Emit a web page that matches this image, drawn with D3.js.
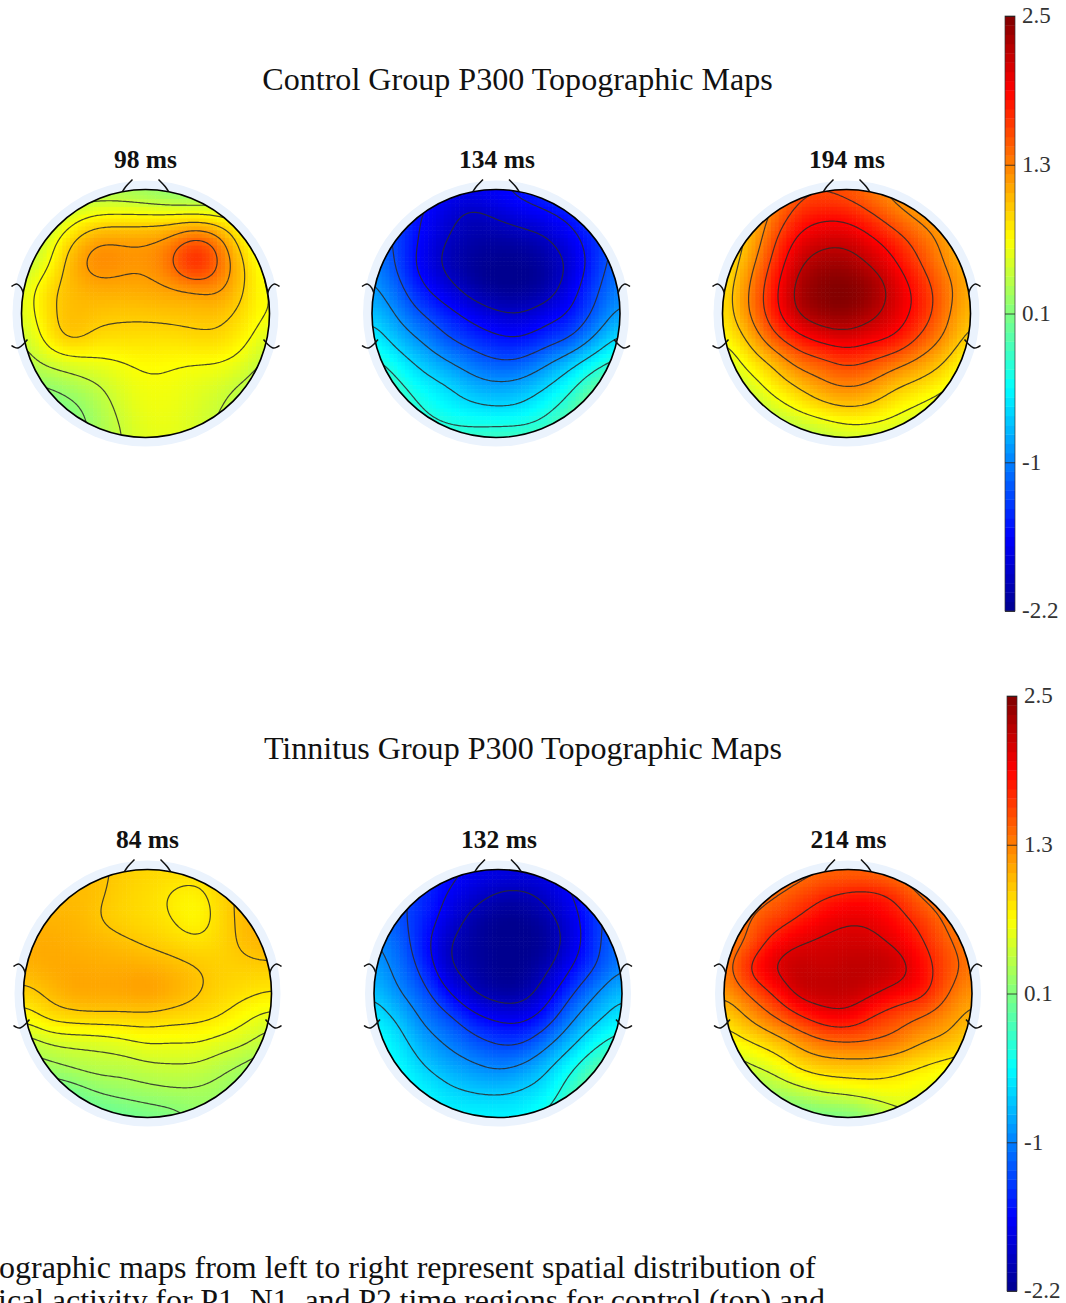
<!DOCTYPE html>
<html>
<head>
<meta charset="utf-8">
<title>P300 Topographic Maps</title>
<script src="https://cdn.jsdelivr.net/npm/d3@7"></script>
<style>
  html, body { margin: 0; padding: 0; background: #fff; overflow: hidden; }
  text { font-family: "Liberation Serif", "Times New Roman", serif; }
</style>
</head>
<body>
<svg id="canvas" width="1066" height="1303"></svg>
<script>
// values, 11 x 11 samples over the head square (front row first)
let control98 = [
  [0.3,0.3,0.3,0.3,0.28,0.2,0.1,0.1,0.2,0.3,0.3],
  [0.2,0.3,0.55,0.7,0.72,0.72,0.72,0.72,0.65,0.55,0.45],
  [0.3,0.55,0.92,1.17,1.18,1.18,1.25,1.5,1.28,0.76,0.5],
  [0.4,0.65,1.08,1.3,1.25,1.23,1.4,1.85,1.42,0.95,0.6],
  [0.55,0.88,1.05,1.12,1.13,1.14,1.18,1.22,1.25,0.95,0.65],
  [0.55,0.88,1.05,1.02,0.99,1.0,1.02,1.03,1.03,0.88,0.68],
  [0.45,0.8,1.03,0.9,0.9,0.88,0.88,0.92,0.92,0.78,0.55],
  [0.35,0.52,0.6,0.66,0.7,0.76,0.74,0.72,0.72,0.62,0.4],
  [0.2,0.22,0.33,0.43,0.6,0.68,0.68,0.62,0.55,0.42,0.3],
  [0.05,0.05,0.15,0.33,0.52,0.66,0.66,0.58,0.48,0.35,0.3],
  [0,0,0.1,0.3,0.47,0.6,0.62,0.55,0.42,0.3,0.3]
];
let control134 = [
  [-1.4,-1.4,-1.45,-1.65,-1.65,-1.6,-1.5,-1.4,-1.3,-1.3,-1.3],
  [-1.2,-1.35,-1.58,-1.78,-1.98,-1.85,-1.72,-1.62,-1.48,-1.35,-1.3],
  [-1.1,-1.3,-1.62,-1.9,-2.05,-2.1,-2.05,-1.95,-1.68,-1.42,-1.2],
  [-0.95,-1.3,-1.68,-1.98,-2.15,-2.2,-2.2,-2.1,-1.85,-1.42,-1.1],
  [-0.88,-1.15,-1.53,-1.78,-2.05,-2.2,-2.2,-2.1,-1.72,-1.32,-1.0],
  [-0.68,-0.98,-1.26,-1.47,-1.68,-1.85,-1.9,-1.72,-1.55,-1.2,-0.85],
  [-0.45,-0.75,-0.98,-1.24,-1.4,-1.53,-1.57,-1.42,-1.27,-0.9,-0.55],
  [-0.2,-0.45,-0.7,-0.9,-1.08,-1.22,-1.2,-0.98,-0.72,-0.42,-0.2],
  [0,-0.2,-0.45,-0.58,-0.78,-0.85,-0.8,-0.62,-0.36,0,0.2],
  [0.05,-0.05,-0.27,-0.42,-0.5,-0.55,-0.52,-0.33,-0.1,0.25,0.3],
  [0.05,0.05,-0.1,-0.15,-0.15,-0.1,-0.1,-0.1,0.05,0.3,0.3]
];
let control194 = [
  [0.8,1.0,1.2,1.5,1.55,1.5,1.35,1.2,1.1,1.1,1.1],
  [0.8,1.0,1.33,1.7,1.82,1.8,1.62,1.38,1.2,1.1,1.0],
  [0.8,1.0,1.52,1.95,2.1,2.12,1.95,1.72,1.45,1.2,1.0],
  [0.75,1.15,1.65,2.14,2.34,2.34,2.17,1.92,1.6,1.27,1.05],
  [0.82,1.27,1.78,2.28,2.47,2.5,2.4,2.08,1.78,1.4,1.1],
  [0.8,1.27,1.75,2.22,2.4,2.44,2.28,2.05,1.78,1.38,1.0],
  [0.72,1.03,1.5,1.8,2.0,2.08,1.98,1.88,1.55,1.25,0.9],
  [0.45,0.78,1.02,1.38,1.5,1.65,1.55,1.38,1.2,0.98,0.65],
  [0.4,0.52,0.78,0.98,1.2,1.3,1.22,1.0,0.88,0.72,0.55],
  [0.3,0.35,0.5,0.68,0.82,0.92,0.87,0.72,0.6,0.5,0.45],
  [0.2,0.2,0.25,0.3,0.38,0.48,0.5,0.5,0.5,0.45,0.45]
];
let tinnitus84 = [
  [1.05,1.05,1.05,1.03,0.97,0.93,0.92,0.92,0.95,1.0,1.0],
  [1.05,1.05,1.05,1.03,0.94,0.9,0.82,0.78,0.94,1.06,1.05],
  [1.1,1.08,1.08,1.0,0.93,0.9,0.84,0.74,0.92,1.07,1.1],
  [1.12,1.13,1.1,1.08,1.04,0.98,0.93,0.88,0.93,1.05,1.1],
  [1.08,1.13,1.14,1.12,1.12,1.12,1.07,1.01,0.95,0.95,0.95],
  [0.93,1.04,1.15,1.15,1.16,1.2,1.12,1.02,0.93,0.88,0.83],
  [0.72,0.88,0.92,0.94,0.93,0.93,0.9,0.88,0.83,0.7,0.6],
  [0.4,0.52,0.55,0.56,0.62,0.69,0.67,0.68,0.6,0.54,0.4],
  [0.25,0.3,0.38,0.43,0.42,0.47,0.49,0.48,0.4,0.3,0.2],
  [0,0.02,0.08,0.2,0.26,0.3,0.33,0.33,0.28,0.2,0.15],
  [-0.05,-0.05,-0.02,0,0.03,0.08,0.12,0.22,0.25,0.2,0.2]
];
let tinnitus132 = [
  [-1.2,-1.25,-1.4,-1.55,-1.66,-1.72,-1.73,-1.72,-1.55,-1.35,-1.3],
  [-1.1,-1.25,-1.42,-1.65,-1.82,-1.98,-2.0,-1.85,-1.62,-1.35,-1.25],
  [-1.05,-1.25,-1.45,-1.77,-2.05,-2.2,-2.2,-2.05,-1.75,-1.35,-1.15],
  [-0.95,-1.15,-1.52,-1.95,-2.1,-2.2,-2.2,-2.15,-1.78,-1.36,-1.05],
  [-0.85,-1.08,-1.39,-1.92,-2.08,-2.2,-2.2,-2.0,-1.6,-1.28,-1.0],
  [-0.68,-0.98,-1.2,-1.6,-1.95,-2.1,-2.1,-1.75,-1.32,-0.98,-0.7],
  [-0.5,-0.72,-1.05,-1.23,-1.52,-1.68,-1.7,-1.45,-1.02,-0.72,-0.5],
  [-0.35,-0.55,-0.85,-1.03,-1.2,-1.33,-1.33,-1.05,-0.72,-0.4,-0.2],
  [-0.35,-0.42,-0.65,-0.82,-0.93,-1.02,-0.93,-0.7,-0.38,-0.05,0.1],
  [-0.4,-0.4,-0.45,-0.6,-0.67,-0.7,-0.63,-0.5,-0.15,0.15,0.2],
  [-0.4,-0.4,-0.42,-0.45,-0.45,-0.45,-0.45,-0.27,-0.1,0.2,0.2]
];
let tinnitus214 = [
  [1.25,1.25,1.25,1.35,1.4,1.4,1.38,1.3,1.3,1.3,1.3],
  [1.2,1.3,1.42,1.55,1.7,1.8,1.82,1.68,1.38,1.3,1.25],
  [1.2,1.45,1.6,1.77,1.95,2.03,2.0,1.85,1.65,1.38,1.25],
  [1.25,1.5,1.88,2.05,2.1,2.12,2.12,2.0,1.78,1.5,1.3],
  [1.3,1.8,2.08,2.2,2.15,2.22,2.22,2.18,1.9,1.58,1.35],
  [1.18,1.47,1.77,2.15,2.2,2.2,2.1,1.93,1.85,1.47,1.2],
  [0.88,1.17,1.42,1.68,1.9,1.95,1.7,1.55,1.4,1.25,1.05],
  [0.7,0.82,0.98,1.2,1.38,1.42,1.42,1.35,1.15,1.08,0.9],
  [0.3,0.5,0.62,0.88,0.98,1.0,0.98,0.9,0.82,0.72,0.7],
  [0.1,0.2,0.32,0.42,0.56,0.62,0.7,0.72,0.65,0.6,0.5],
  [0,0,0,0.02,0.05,0.05,0.2,0.45,0.5,0.5,0.5]
];

// contour levels of each map
let levels98 = [0.24, 0.48, 0.72, 0.96, 1.2, 1.44];
let levels134 = [-1.9, -1.58, -1.26, -0.94, -0.62, -0.3];
let levels194 = [0.7, 1.0, 1.3, 1.6, 1.9, 2.2];
let levels84 = [0.2, 0.36, 0.52, 0.68, 0.84, 1.0];
let levels132 = [-1.95, -1.63, -1.31, -0.99, -0.67, -0.35];
let levels214 = [0.55, 0.85, 1.15, 1.45, 1.75, 2.05];

let timeLabels = ["98 ms", "134 ms", "194 ms", "84 ms", "132 ms", "214 ms"];
let groupTitles = ["Control Group P300 Topographic Maps", "Tinnitus Group P300 Topographic Maps"];
let captionLines = [
  "ographic maps from left to right represent spatial distribution of",
  "ical activity for P1, N1, and P2 time regions for control (top) and"
];
let barTicks = [-2.2, -1.025, 0.15, 1.325, 2.5];
let barTickLabels = ["-2.2", "-1", "0.1", "1.3", "2.5"];

let jetColors = ["#00008f", "#0000ff", "#0080ff", "#00ffff", "#80ff80", "#ffff00", "#ff8000", "#ff0000", "#800000"];

const canvas = d3.select("#canvas");
const radius = 124;
const minV = -2.2, maxV = 2.5;

const jet = d3.scaleLinear()
  .domain(d3.range(9).map(i => minV + i * (maxV - minV) / 8))
  .range(jetColors)
  .interpolate(d3.interpolateRgb)
  .clamp(true);

// catmull-rom between the samples, only so the picture is smooth
const cubic = (a, b, c, d, t) =>
  0.5 * (2 * b + (c - a) * t + (2 * a - 5 * b + 4 * c - d) * t * t + (3 * b - a - 3 * c + d) * t * t * t);

const sampleGrid = (grid, u, v) => {
  let n = grid.length - 1;
  let iu = Math.min(Math.floor(u), n - 1), iv = Math.min(Math.floor(v), n - 1);
  let tu = u - iu, tv = v - iv;
  let rows = [-1, 0, 1, 2].map(dv => {
    let row = grid[Math.max(0, Math.min(n, iv + dv))];
    let at = du => row[Math.max(0, Math.min(n, iu + du))];
    return cubic(at(-1), at(0), at(1), at(2), tu);
  });
  return cubic(rows[0], rows[1], rows[2], rows[3], tv);
};

const smoothLine = d3.line().curve(d3.curveBasis);

const drawHead = (map, idx) => {
  const g = canvas.append("g").attr("transform", `translate(${map.cx},${map.cy})`);
  const x = d3.scaleLinear().domain([0, 160]).range([-radius, radius]);

  g.append("circle").attr("r", 133).attr("fill", "#ebf3fd");
  g.append("clipPath").attr("id", "clip" + idx).append("circle").attr("r", radius);

  const body = g.append("g").attr("clip-path", `url(#clip${idx})`);

  // finer field for pixels and lines, lightly blurred so the read values do not wobble
  const fine = 161;
  const field = new Float64Array(fine * fine);
  d3.range(fine).forEach(j => d3.range(fine).forEach(i => {
    field[j * fine + i] = sampleGrid(map.grid, i / 16, j / 16);
  }));
  d3.blur2({ data: field, width: fine, height: fine }, 6);

  // blocky pixels like the original interpolation grid
  const cells = [];
  const cellCount = 65;
  d3.range(cellCount).forEach(j => d3.range(cellCount).forEach(i => {
    let u = i * 2.5, v = j * 2.5;
    if (Math.hypot(x(u), x(v)) < radius + 5) {
      cells.push({ u, v, value: field[Math.round(v) * fine + Math.round(u)] });
    }
  }));
  const cellSize = x(2.5) - x(0);
  body.selectAll("rect")
    .data(cells)
    .join("rect")
    .attr("x", d => x(d.u) - cellSize / 2)
    .attr("y", d => x(d.v) - cellSize / 2)
    .attr("width", cellSize + 0.6)
    .attr("height", cellSize + 0.6)
    .attr("fill", d => jet(d.value));

  const contours = d3.contours().size([fine, fine]).thresholds(map.levels)(field);
  const toHead = d3.geoTransform({
    point(px, py) { this.stream.point(x(px - 0.5), x(py - 0.5)); }
  });
  body.selectAll("path.level")
    .data(contours)
    .join("path")
    .attr("class", "level")
    .attr("d", d3.geoPath(toHead))
    .attr("fill", "none")
    .attr("stroke", "#2a2a2a")
    .attr("stroke-opacity", 0.85)
    .attr("stroke-width", 1.2);

  g.append("circle").attr("r", radius).attr("fill", "none").attr("stroke", "#000").attr("stroke-width", 1.6);

  // nose
  [-1, 1].forEach(s => {
    g.append("path")
      .attr("d", smoothLine([[s * 23, -122], [s * 20, -127], [s * 16, -131], [s * 13, -134]]))
      .attr("fill", "none").attr("stroke", "#111").attr("stroke-width", 1.5);
  });
  // ears
  [-1, 1].forEach(s => {
    g.append("path")
      .attr("d", smoothLine([[s * 122, -20], [s * 124, -26], [s * 128, -30], [s * 131, -29], [s * 134, -27]]))
      .attr("fill", "none").attr("stroke", "#111").attr("stroke-width", 1.5);
    g.append("path")
      .attr("d", smoothLine([[s * 118, 26], [s * 122, 31], [s * 127, 35], [s * 131, 34], [s * 134, 32]]))
      .attr("fill", "none").attr("stroke", "#111").attr("stroke-width", 1.5);
  });

  canvas.append("text")
    .attr("x", map.cx + map.labelShift)
    .attr("y", map.cy - 145.5)
    .attr("text-anchor", "middle")
    .attr("font-size", 25.5)
    .attr("font-weight", "bold")
    .attr("fill", "#111")
    .text(map.label);
};

const drawBar = (barX, top) => {
  const barW = 10, barH = 595;
  const scale = d3.scaleLinear().domain([minV, maxV]).range([top + barH, top]);
  const steps = d3.range(64).map(i => minV + (i + 0.5) * (maxV - minV) / 64);
  const stepH = barH / 64;
  const bar = canvas.append("g");
  bar.selectAll("rect")
    .data(steps)
    .join("rect")
    .attr("x", barX)
    .attr("y", d => scale(d) - stepH / 2)
    .attr("width", barW)
    .attr("height", stepH + 0.4)
    .attr("fill", d => jet(d));
  bar.append("rect")
    .attr("x", barX).attr("y", top).attr("width", barW).attr("height", barH)
    .attr("fill", "none").attr("stroke", "#333").attr("stroke-width", 0.7);

  const axis = d3.axisRight(scale)
    .tickValues(barTicks)
    .tickSizeInner(-barW)
    .tickSizeOuter(0)
    .tickPadding(7)
    .tickFormat((d, i) => barTickLabels[i]);
  const ax = canvas.append("g")
    .attr("transform", `translate(${barX + barW},0)`)
    .call(axis);
  ax.select(".domain").remove();
  ax.selectAll("line").attr("stroke", "#222").attr("stroke-width", 0.8);
  ax.selectAll("text")
    .attr("font-size", 23)
    .attr("fill", "#333")
    .attr("dy", "0.3em")
    .style("font-family", '"Liberation Serif", serif');
};

let maps = [
  { grid: control98, levels: levels98, label: timeLabels[0], cx: 145.5, cy: 313.5, labelShift: 0 },
  { grid: control134, levels: levels134, label: timeLabels[1], cx: 496, cy: 313.5, labelShift: 1 },
  { grid: control194, levels: levels194, label: timeLabels[2], cx: 846.5, cy: 313.5, labelShift: 0.5 },
  { grid: tinnitus84, levels: levels84, label: timeLabels[3], cx: 147.5, cy: 993.5, labelShift: 0 },
  { grid: tinnitus132, levels: levels132, label: timeLabels[4], cx: 498, cy: 993.5, labelShift: 1 },
  { grid: tinnitus214, levels: levels214, label: timeLabels[5], cx: 848, cy: 993.5, labelShift: 0.5 }
];
maps.forEach(drawHead);

drawBar(1005, 16);
drawBar(1007, 696);

canvas.selectAll("text.title")
  .data(groupTitles)
  .join("text")
  .attr("class", "title")
  .attr("x", (d, i) => i === 0 ? 517.5 : 523)
  .attr("y", (d, i) => i === 0 ? 90 : 759)
  .attr("text-anchor", "middle")
  .attr("font-size", 32.1)
  .attr("fill", "#111")
  .text(d => d);

canvas.selectAll("text.caption")
  .data(captionLines)
  .join("text")
  .attr("class", "caption")
  .attr("x", (d, i) => i === 0 ? -1 : -2)
  .attr("y", (d, i) => i === 0 ? 1278 : 1311)
  .attr("font-size", 32)
  .attr("word-spacing", (d, i) => i === 0 ? 0 : -0.4)
  .attr("fill", "#111")
  .text(d => d);
</script>
</body>
</html>
